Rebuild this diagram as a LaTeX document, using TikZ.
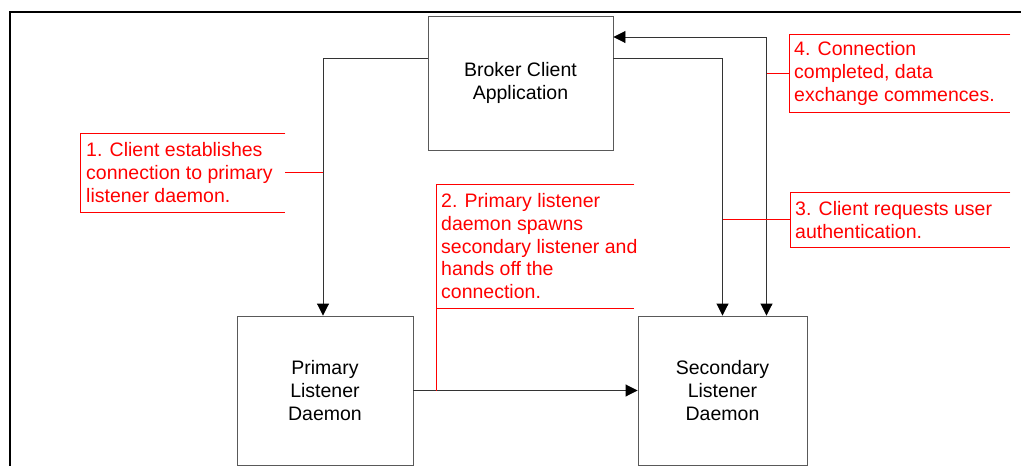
\documentclass[tikz,border=0pt]{standalone}
\usepackage{fontspec}
\setmainfont{Liberation Sans}
\usetikzlibrary{positioning, arrows.meta}

\tikzset{
  block/.style={draw=black!65, line width=0.9pt, align=center,
    font=\fontsize{19.5}{23}\selectfont},
  bracket/.style={inner sep=0pt, anchor=north west},
  note/.style={text=red, align=left, inner sep=0pt,
    font=\fontsize{19.5}{22.8}\selectfont},
  tip/.style={Triangle[length=12pt, width=12pt, color=black]},
  flow/.style={draw=black!80, line width=0.9pt, -{Triangle[length=12pt, width=12pt, color=black]}},
  lead/.style={draw=red, line width=0.9pt}
}

\begin{document}
\begin{tikzpicture}[x=1pt, y=-1pt]
    \useasboundingbox (0,0) rectangle (1021,466);
    \draw[line width=2pt] (10,467) -- (10,12) -- (1021,12);

    % the three programs
    \node[block, minimum width=185pt, minimum height=134pt] (broker) at (520.5,83) {Broker Client\\Application};
    \node[block, minimum width=176pt, minimum height=149pt] (primary) at (325,390.5) {Primary\\Listener\\Daemon};
    \node[block, minimum width=169pt, minimum height=149pt] (secondary) at (722.5,390.5) {Secondary\\Listener\\Daemon};

    \coordinate (j1) at ([xshift=-2pt]primary.north);
    \coordinate (j4) at ([xshift=44pt]secondary.north);

    % connections
    \draw[flow] ([yshift=25pt]broker.west) -| (j1);
    \draw[flow] (primary.east) -- (secondary.west);
    \draw[flow] ([yshift=25pt]broker.east) -| (secondary.north);
    \draw[flow, {Triangle[length=12pt, width=12pt, color=black]}-{Triangle[length=12pt, width=12pt, color=black]}] (j4) |- ([yshift=46pt]broker.east);

    % callouts
    \node[bracket, minimum width=205pt, minimum height=79pt] (b1) at (80,133) {};
    \node[bracket, minimum width=198pt, minimum height=124pt] (b2) at (436,184) {};
    \node[bracket, minimum width=220pt, minimum height=55pt] (b3) at (790,192) {};
    \node[bracket, minimum width=221pt, minimum height=78pt] (b4) at (789,34) {};

    \node[note, right=6pt of b1.west] (t1) {1. Client establishes\\connection to primary\\listener daemon.};
    \node[note, right=5pt of b2.west] (t2) {2. Primary listener\\daemon spawns\\secondary listener and\\hands off the\\connection.};
    \node[note, right=5pt of b3.west] (t3) {3. Client requests user\\authentication.};
    \node[note, right=5pt of b4.west] (t4) {4. Connection\\completed, data\\exchange commences.};

    \foreach \b in {b1, b2, b3, b4}
        \draw[lead] (\b.north east) -- (\b.north west) -- (\b.south west) -- (\b.south east);

    \draw[lead] (b1.east) -- (b1.east -| j1);
    \draw[lead] (b2.south west) -- (b2.south west |- primary.east);
    \draw[lead] (b3.west) -- (b3.west -| secondary.north);
    \draw[lead] (b4.west) -- (b4.west -| j4);
\end{tikzpicture}
\end{document}
